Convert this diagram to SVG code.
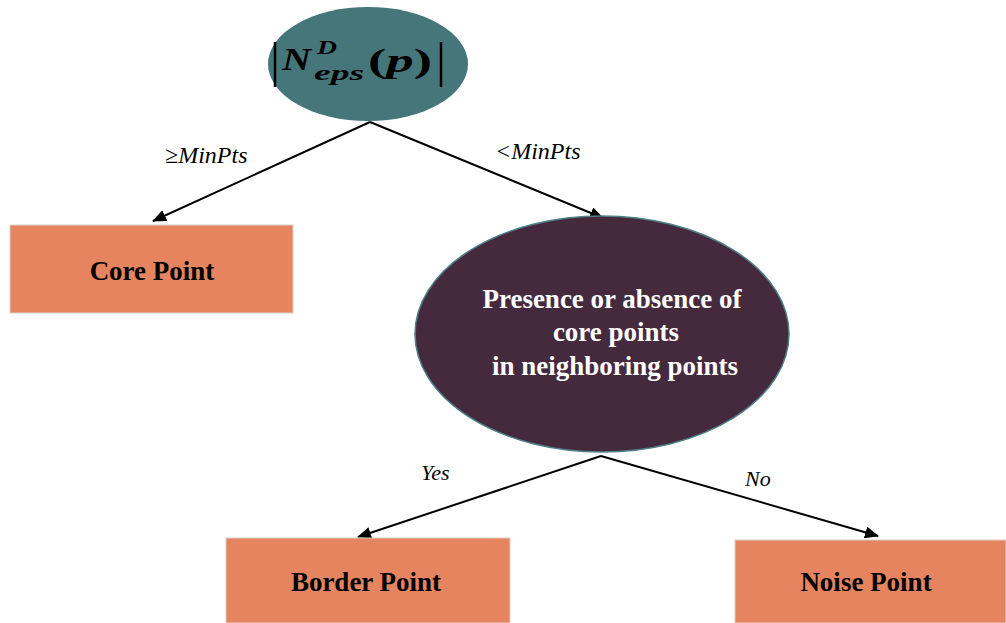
<svg xmlns="http://www.w3.org/2000/svg" width="1006" height="623" viewBox="0 0 1006 623">
<style>
.box{fill:#E5845F;stroke:#d8d0cc;stroke-width:1}
.bt{font-family:"Liberation Serif",serif;font-weight:bold;font-size:27px;fill:#000;text-anchor:middle}
.wt{font-family:"Liberation Serif",serif;font-weight:bold;font-size:27px;fill:#fff;text-anchor:middle}
.lab{font-family:"Liberation Serif",serif;font-style:italic;font-size:22px;fill:#000}
.lab2{font-family:"Liberation Serif",serif;font-style:italic;font-size:24px;fill:#000}
.mt{font-family:"Liberation Serif",serif;font-weight:bold;font-style:italic;fill:#000}
.edge{stroke:#000;stroke-width:2;fill:none;marker-end:url(#ah)}
</style>
<defs>
<marker id="ah" markerWidth="14" markerHeight="12" refX="13" refY="6" orient="auto" markerUnits="userSpaceOnUse">
<path d="M0,0 L14,6 L0,12 Z" fill="#000"/>
</marker>
</defs>
<rect width="1006" height="623" fill="#fff"/>
<g id="connectors">
<line class="edge" x1="370" y1="122" x2="153" y2="221"/>
<line class="edge" x1="370" y1="122" x2="603" y2="218"/>
<line class="edge" x1="601" y1="456" x2="358" y2="537"/>
<line class="edge" x1="601" y1="456" x2="878" y2="536"/>
<text class="lab2" x="165" y="163">≥MinPts</text>
<text class="lab2" x="495" y="159">&lt;MinPts</text>
<text class="lab" x="421" y="480">Yes</text>
<text class="lab" x="745" y="486">No</text>
</g>
<g id="root">
<ellipse cx="368" cy="64" rx="100" ry="57" fill="#45767A"/>
<line x1="275" y1="42" x2="275" y2="87" stroke="#000" stroke-width="2.5"/>
<line x1="441" y1="42" x2="441" y2="87" stroke="#000" stroke-width="2.5"/>
<text class="mt" x="282" y="70" style="font-size:31px" textLength="29" lengthAdjust="spacingAndGlyphs">N</text>
<text class="mt" x="317" y="54" style="font-size:19px" textLength="20" lengthAdjust="spacingAndGlyphs">D</text>
<text class="mt" x="314" y="80" style="font-size:21px" textLength="50" lengthAdjust="spacingAndGlyphs">eps</text>
<text class="mt" x="368" y="72" style="font-size:33px" textLength="64" lengthAdjust="spacingAndGlyphs"><tspan style="font-style:normal">(</tspan>p<tspan style="font-style:normal">)</tspan></text>
</g>
<g id="core">
<rect class="box" x="10" y="225" width="283" height="88"/>
<text class="bt" x="152" y="280">Core Point</text>
</g>
<g id="decision">
<ellipse cx="602" cy="334" rx="187" ry="118" fill="#452A3E" stroke="#4E8088" stroke-width="1.5"/>
<text class="wt" x="612" y="308">Presence or absence of</text>
<text class="wt" x="616" y="341">core points</text>
<text class="wt" x="615" y="375">in neighboring points</text>
</g>
<g id="border">
<rect class="box" x="226" y="538" width="284" height="85"/>
<text class="bt" x="366" y="591">Border Point</text>
</g>
<g id="noise">
<rect class="box" x="735" y="540" width="271" height="83"/>
<text class="bt" x="866" y="591">Noise Point</text>
</g>
</svg>
